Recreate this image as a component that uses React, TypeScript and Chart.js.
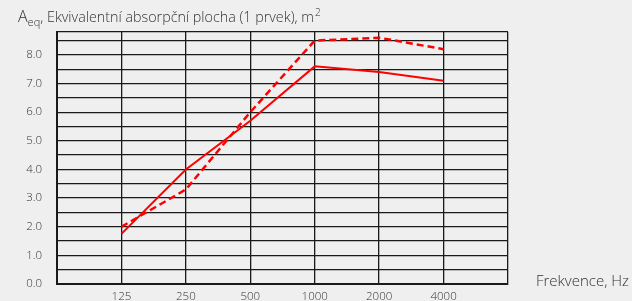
import React, { useEffect, useRef } from "react";
import { Chart, registerables } from "chart.js";

Chart.register(...registerables);

const categories = ["125", "250", "500", "1000", "2000", "4000"];
const solidSeries = [1.75, 4.0, 5.7, 7.6, 7.4, 7.1];
const dashedSeries = [2.0, 3.3, 6.0, 8.5, 8.6, 8.2];
const yMax = 8.8;

const FONT = "'Open Sans', 'DejaVu Sans', sans-serif";
const TEXT = "#333333";

const labelsPlugin = {
  id: "customLabels",
  afterDraw(chart: any) {
    const ctx = chart.ctx as CanvasRenderingContext2D;
    ctx.save();
    ctx.fillStyle = TEXT;
    ctx.textBaseline = "alphabetic";
    ctx.textAlign = "left";
    let x = 18;
    const base = 22;
    ctx.font = `300 16px ${FONT}`;
    ctx.fillText("A", x, base);
    x += ctx.measureText("A").width;
    ctx.font = `300 11px ${FONT}`;
    ctx.fillText("eq", x, base + 4);
    x += ctx.measureText("eq").width;
    ctx.font = `300 14.3px ${FONT}`;
    const main = ", Ekvivalentní absorpční plocha (1 prvek), m";
    ctx.fillText(main, x, base);
    x += ctx.measureText(main).width;
    ctx.font = `300 10px ${FONT}`;
    ctx.fillText("2", x + 1, base - 6);

    const area = chart.chartArea;
    ctx.font = `300 15px ${FONT}`;
    ctx.textAlign = "right";
    ctx.textBaseline = "middle";
    ctx.fillText("Frekvence, Hz", 629, area.bottom - 2);
    ctx.restore();
  },
};

export default function App() {
  const ref = useRef<HTMLCanvasElement | null>(null);
  useEffect(() => {
    if (!ref.current) return;
    const chart = new Chart(ref.current, {
      type: "line",
      data: {
        datasets: [
          {
            label: "solid",
            data: solidSeries.map((v, i) => ({ x: i + 1, y: v })),
            borderColor: "#ff0000",
            borderWidth: 2,
            pointRadius: 0,
            fill: false,
            tension: 0,
          },
          {
            label: "dashed",
            data: dashedSeries.map((v, i) => ({ x: i + 1, y: v })),
            borderColor: "#ff0000",
            borderWidth: 2.5,
            borderDash: [7, 4],
            pointRadius: 0,
            fill: false,
            tension: 0,
          },
        ],
      },
      options: {
        animation: false,
        responsive: false,
        maintainAspectRatio: false,
        layout: { padding: { top: 32, right: 124, left: 0, bottom: 0 } },
        plugins: {
          legend: { display: false },
          tooltip: { enabled: false },
          title: { display: false },
        },
        scales: {
          x: {
            type: "linear",
            min: 0,
            max: categories.length + 1,
            afterFit: (s: any) => {
              s.height = 17;
              s.paddingLeft = 0;
              s.paddingRight = 0;
              s.paddingTop = 0;
              s.paddingBottom = 0;
            },
            afterBuildTicks: (s: any) => {
              const t = [];
              for (let i = 0; i <= categories.length + 1; i++) t.push({ value: i });
              s.ticks = t;
            },
            ticks: {
              autoSkip: false,
              maxRotation: 0,
              padding: 6,
              color: TEXT,
              font: { family: FONT, size: 11.5, weight: 300 as any },
              callback: (v: any) => {
                const i = Math.round(Number(v)) - 1;
                return i >= 0 && i < categories.length ? categories[i] : "";
              },
            },
            grid: { color: "#1a1a1a", lineWidth: 1.3, drawTicks: false },
            border: { color: "#1a1a1a", width: 2 },
          },
          y: {
            type: "linear",
            min: 0,
            max: yMax,
            afterFit: (s: any) => {
              s.width = 57;
              s.paddingLeft = 0;
              s.paddingRight = 0;
              s.paddingTop = 0;
              s.paddingBottom = 0;
            },
            afterBuildTicks: (s: any) => {
              const t = [];
              for (let v = 0; v <= yMax + 1e-9; v += 0.5) t.push({ value: Math.round(v * 10) / 10 });
              t.push({ value: yMax });
              s.ticks = t;
            },
            ticks: {
              autoSkip: false,
              padding: 15,
              color: TEXT,
              font: { family: FONT, size: 11.5, weight: 300 as any },
              callback: (v: any) => {
                const n = Number(v);
                return Math.abs(n - Math.round(n)) < 1e-6 && n < yMax ? n.toFixed(1) : "";
              },
            },
            grid: { color: "#1a1a1a", lineWidth: 1.3, drawTicks: false },
            border: { color: "#1a1a1a", width: 2 },
          },
        },
      },
      plugins: [labelsPlugin],
    });
    return () => chart.destroy();
  }, []);
  return (
    <div
      style={{
        position: "fixed",
        left: 0,
        top: 0,
        width: 632,
        height: 301,
        background: "#efefef",
      }}
    >
      <canvas ref={ref} width={632} height={301} style={{ display: "block" }} />
    </div>
  );
}
